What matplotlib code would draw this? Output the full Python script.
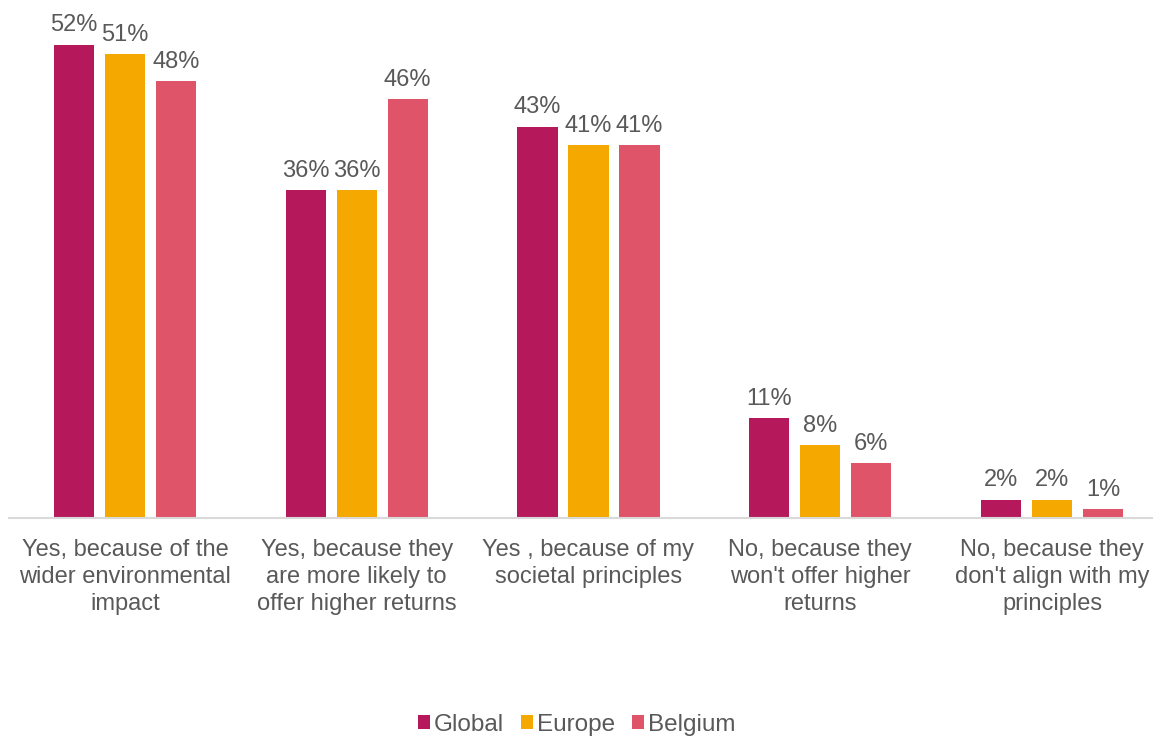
import matplotlib.pyplot as plt
import numpy as np

plt.rcParams['font.family'] = ['Liberation Sans', 'DejaVu Sans']

categories = [
    'Yes, because of the\nwider environmental\nimpact',
    'Yes, because they\nare more likely to\noffer higher returns',
    'Yes , because of my\nsocietal principles',
    'No, because they\nwon\'t offer higher\nreturns',
    'No, because they\ndon\'t align with my\nprinciples',
]
series = ['Global', 'Europe', 'Belgium']
global_vals = [52, 36, 43, 11, 2]
europe_vals = [51, 36, 41, 8, 2]
belgium_vals = [48, 46, 41, 6, 1]

colors = ['#B5195B', '#F5A800', '#E0546A']
text_color = '#595959'

fig = plt.figure(figsize=(11.53, 7.38), dpi=100)
# plot area runs a little past the right edge of the figure
ax = fig.add_axes([9 / 1153, 1 - 518 / 738, 1159 / 1153, 518 / 738])

x = np.arange(len(categories))
width = 0.173
step = 0.22
for i, (name, vals) in enumerate(zip(series, [global_vals, europe_vals, belgium_vals])):
    pos = x + (i - 1) * step
    bars = ax.bar(pos, vals, width, color=colors[i], label=name)
    for b, v in zip(bars, vals):
        ax.annotate(f'{v}%', (b.get_x() + b.get_width() / 2, v),
                    xytext=(0, 6), textcoords='offset points',
                    ha='center', va='bottom', fontsize=17, color=text_color)

ax.set_xlim(-0.5, len(categories) - 0.5)
ax.set_ylim(0, 518 / 9.1)
ax.set_yticks([])
ax.set_xticks(x)
ax.set_xticklabels(categories, fontsize=17, color=text_color, linespacing=1.3)
ax.tick_params(axis='x', length=0, pad=15)
for side in ['top', 'right', 'left']:
    ax.spines[side].set_visible(False)
ax.spines['bottom'].set_color('#D9D9D9')
ax.spines['bottom'].set_linewidth(1.5)

fig.legend(loc='center', bbox_to_anchor=(0.5, 1 - 725 / 738), ncol=3, frameon=False,
           fontsize=17.5, labelcolor=text_color, handlelength=0.5, handleheight=0.5,
           handletextpad=0.15, columnspacing=0.7)

fig.savefig('out.png', dpi=100)
